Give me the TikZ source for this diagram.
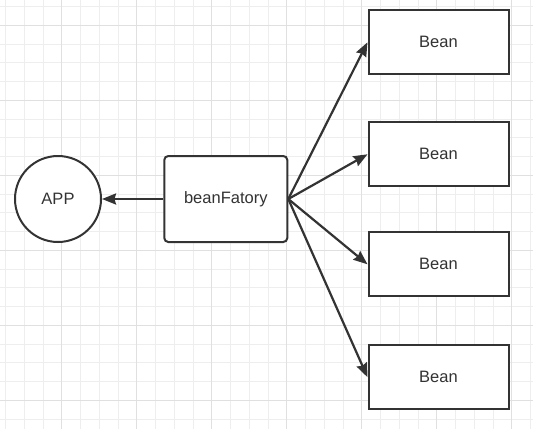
\documentclass[tikz,border=0pt]{standalone}
\usepackage{fontspec}
\setsansfont{Liberation Sans}
\usetikzlibrary{shapes}
\usetikzlibrary{arrows.meta}
\definecolor{ink}{HTML}{333333}
\definecolor{gridmin}{HTML}{EEEEEE}
\definecolor{gridmaj}{HTML}{E0E0E0}
\tikzset{
	bfnode/.style = {align=center, inner sep=0pt, text centered,
		font=\sffamily\fontsize{16.5}{18}\selectfont, text=ink, draw=ink, fill=white,
		line width=2pt},
	bf_app/.style = {bfnode, circle, minimum size=86pt},% le client
	bf_fac/.style = {bfnode, rectangle, rounded corners=4pt,
		minimum width=123pt, minimum height=86pt},% la fabrique
	bf_bean/.style = {bfnode, rectangle,
		minimum width=140pt, minimum height=64pt},% un bean
	bf_arrow/.style = {->, draw=ink, line width=2.2pt}
}

\begin{document}
\begin{tikzpicture}[x=1pt,y=-1pt,>={Stealth[length=14pt,width=11pt,inset=1.5pt]}]
	\useasboundingbox[fill=white] (0,0) rectangle (533,429);
	% grille de fond
	\foreach \i in {0,...,28}{
		\draw[line width=1pt, gridmin] (5.5+18.75*\i,0) -- (5.5+18.75*\i,429);}
	\foreach \j in {0,...,22}{
		\draw[line width=1pt, gridmin] (0,6.5+18.75*\j) -- (533,6.5+18.75*\j);}
	\foreach \i in {0,...,6}{
		\draw[line width=1.3pt, gridmaj] (61.75+75*\i,0) -- (61.75+75*\i,429);}
	\foreach \j in {0,...,5}{
		\draw[line width=1.3pt, gridmaj] (0,25.25+75*\j) -- (533,25.25+75*\j);}
	% noeuds
	\node [bf_app] (app) at (58,199) {APP};
	\node [bf_fac] (fac) at (225.8,199) {beanFatory};
	\node [bf_bean] (b1) at (438.5,42.3) {Bean};
	\node [bf_bean] (b2) at (438.5,154.3) {Bean};
	\node [bf_bean] (b3) at (438.5,264.3) {Bean};
	\node [bf_bean] (b4) at (438.5,377.2) {Bean};
	% fleches
	\draw [bf_arrow] (fac) -- (app);
	\foreach \b in {b1,b2,b3,b4}
		\draw [bf_arrow] (fac.east) -- (\b.west);
\end{tikzpicture}
\end{document}
